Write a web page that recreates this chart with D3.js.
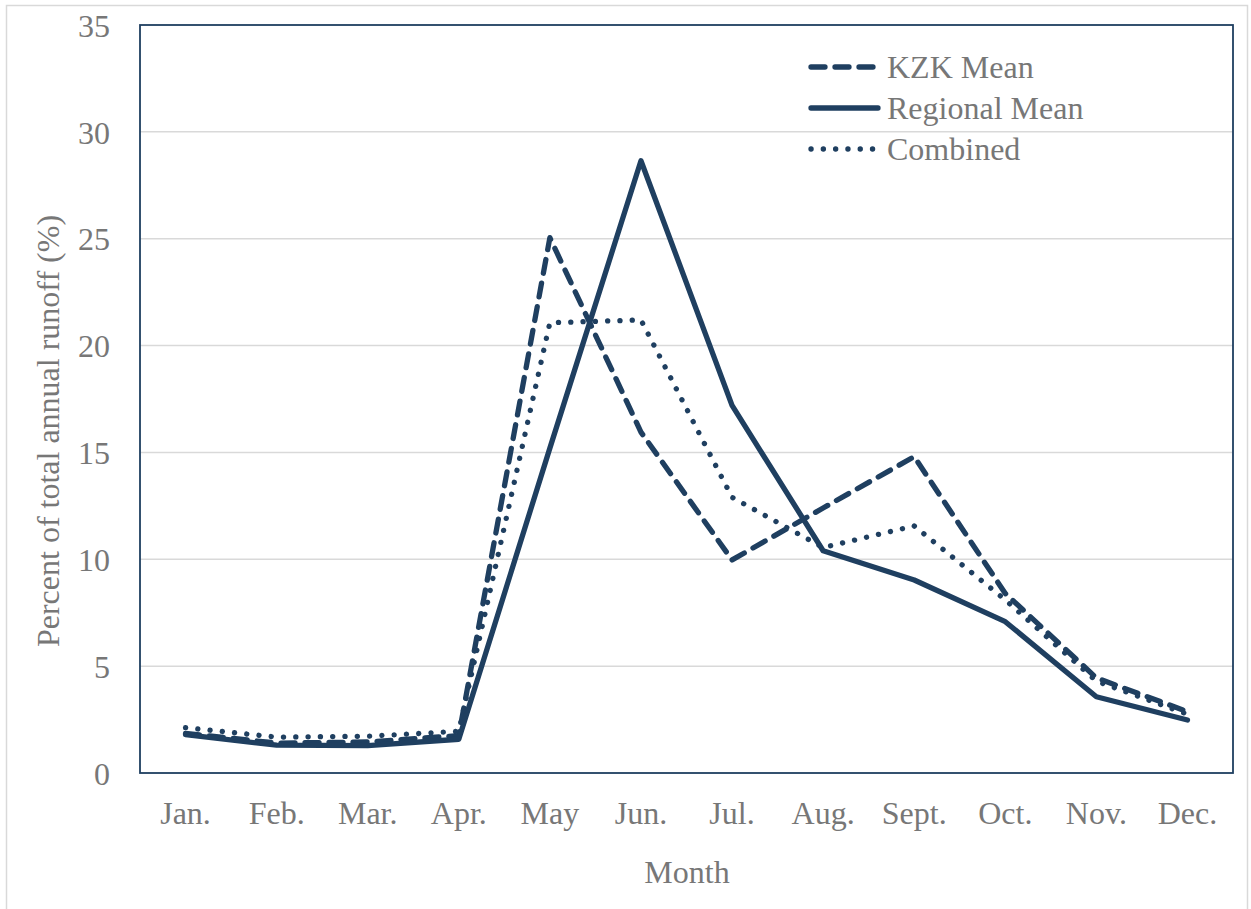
<!DOCTYPE html>
<html lang="en">
<head>
  <meta charset="UTF-8">
  <title>runoff</title>
  <script src="https://d3js.org/d3.v7.min.js" charset="utf-8"></script>
  <style>
    body { margin: 0; background: #fff; }
    text { font-family: "Liberation Serif", serif; fill: #777; }
  </style>
</head>
<body>
</body>
<script>
  // monthly share of annual runoff (%)
  var months = ['Jan.', 'Feb.', 'Mar.', 'Apr.', 'May', 'Jun.', 'Jul.', 'Aug.', 'Sept.', 'Oct.', 'Nov.', 'Dec.']
  var kzkMean = [1.85, 1.4, 1.45, 1.75, 25.05, 15.95, 9.97, 12.4, 14.8, 8.4, 4.45, 2.87]
  var regionalMean = [1.8, 1.3, 1.28, 1.58, 15.2, 28.65, 17.2, 10.4, 9.03, 7.08, 3.57, 2.48]
  var combined = [2.12, 1.68, 1.72, 1.95, 21.07, 21.2, 12.9, 10.55, 11.56, 8.1, 4.3, 2.75]
  var yTicks = [0, 5, 10, 15, 20, 25, 30, 35]

  var navy = '#1f3f60'
  var W = 1251, H = 909
  var pLeft = 140, pRight = 1233, pTop = 25, pBottom = 773

  var svg = d3.select('body').append('svg').attr('width', W).attr('height', H)

  // outer chart frame
  svg.append('rect').attr('x', 6.5).attr('y', 5.5).attr('width', 1241).attr('height', 920)
    .attr('fill', 'none').attr('stroke', '#d9d9d9').attr('stroke-width', 1.5)

  var x = d3.scaleBand().domain(months).range([pLeft, pRight])
  var y = d3.scaleLinear().domain([0, 35]).range([pBottom, pTop])

  // gridlines
  svg.append('g').selectAll('line').data(yTicks.filter(d => d > 0 && d < 35)).enter().append('line')
    .attr('x1', pLeft).attr('x2', pRight)
    .attr('y1', d => y(d)).attr('y2', d => y(d))
    .attr('stroke', '#d9d9d9').attr('stroke-width', 1.5)

  // y axis labels
  var yAxis = svg.append('g').attr('transform', 'translate(110,0)')
    .call(d3.axisLeft(y).tickValues(yTicks).tickSize(0).tickPadding(0))
  yAxis.select('.domain').remove()
  yAxis.selectAll('text').attr('font-size', 32).attr('font-family', 'Liberation Serif').attr('fill', '#777').attr('dy', '0.35em')

  // x axis labels
  var xAxis = svg.append('g').attr('transform', 'translate(0,' + pBottom + ')')
    .call(d3.axisBottom(x).tickSize(0).tickPadding(0))
  xAxis.select('.domain').remove()
  xAxis.selectAll('text').attr('font-size', 32).attr('font-family', 'Liberation Serif').attr('fill', '#777').attr('y', 51).attr('dy', 0)

  // plot frame
  svg.append('rect').attr('x', pLeft).attr('y', pTop).attr('width', pRight - pLeft).attr('height', pBottom - pTop)
    .attr('fill', 'none').attr('stroke', navy).attr('stroke-width', 1.8)

  var line = d3.line()
    .x(function(d, i) { return x(months[i]) + x.bandwidth() / 2 })
    .y(function(d) { return y(d) })

  var series = [
    { name: 'KZK Mean', values: kzkMean, dash: '14,10' },
    { name: 'Regional Mean', values: regionalMean, dash: null },
    { name: 'Combined', values: combined, dash: '0.1,12.2' }
  ]

  svg.append('g').selectAll('path').data(series).enter().append('path')
    .attr('d', d => line(d.values))
    .attr('fill', 'none')
    .attr('stroke', navy)
    .attr('stroke-width', 5.3)
    .attr('stroke-linecap', 'round')
    .attr('stroke-linejoin', 'round')
    .attr('stroke-dasharray', d => d.dash)

  // legend
  var legend = svg.append('g').selectAll('g').data(series).enter().append('g')
    .attr('transform', (d, i) => 'translate(0,' + (67 + i * 41) + ')')
  legend.append('line')
    .attr('x1', 811).attr('x2', 878).attr('y1', 0).attr('y2', 0)
    .attr('stroke', navy).attr('stroke-width', 5.3)
    .attr('stroke-linecap', 'round')
    .attr('stroke-dasharray', d => d.dash)
  legend.append('text')
    .attr('x', 887).attr('y', 11)
    .attr('font-size', 32)
    .text(d => d.name)

  // axis titles
  svg.append('text').attr('x', 687).attr('y', 883).attr('text-anchor', 'middle')
    .attr('font-size', 32).text('Month')
  svg.append('text').attr('transform', 'translate(59,431) rotate(-90)').attr('text-anchor', 'middle')
    .attr('font-size', 32).text('Percent of total annual runoff (%)')
</script>
</html>
